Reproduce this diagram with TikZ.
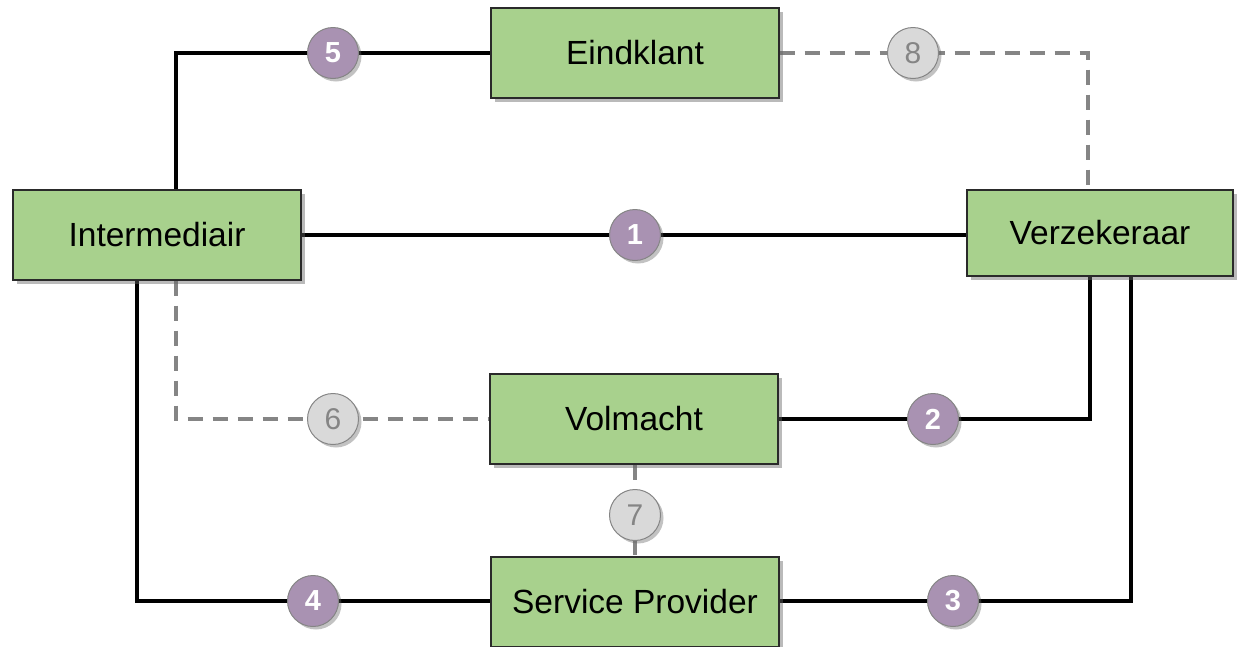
\documentclass[tikz,border=0pt]{standalone}
\usepackage{fontspec}
\setmainfont{Liberation Sans}
\usetikzlibrary{shadows,backgrounds}
\definecolor{boxgreen}{HTML}{A8D18D}
\definecolor{boxedge}{HTML}{2A2A2A}
\definecolor{badgepurple}{HTML}{A992B2}
\definecolor{badgegrey}{HTML}{D9D9D9}
\definecolor{linegrey}{HTML}{858585}
\tikzset{
  party/.style={draw=boxedge, line width=1.4pt, fill=boxgreen, minimum width=288pt, minimum height=90pt,
    inner sep=0pt, font=\fontsize{33.5}{40}\selectfont,
    drop shadow={shadow xshift=4pt, shadow yshift=-4pt, opacity=0.45, fill=black!60}},
  solidlink/.style={line width=3.3pt, black},
  dashlink/.style={line width=3.6pt, linegrey, dash pattern=on 15pt off 10pt},
  badge/.style={circle, minimum size=51pt, inner sep=0pt, draw=linegrey, line width=1pt,
    drop shadow={shadow xshift=3pt, shadow yshift=-3pt, opacity=0.4, fill=black!60}},
  mainbadge/.style={badge, fill=badgepurple, text=white, font=\fontsize{29}{34}\selectfont\bfseries},
  sidebadge/.style={badge, fill=badgegrey, text=linegrey, font=\fontsize{30}{34}\selectfont},
}
\begin{document}
\begin{tikzpicture}[x=1pt, y=-1pt]
\useasboundingbox (0,0) rectangle (1239,646);
\clip (0,0) rectangle (1239,646);

% parties
\node[party] (eind) at (635,53) {Eindklant};
\node[party] (inter) at (157,235) {Intermediair};
\node[party, minimum width=266pt, minimum height=86pt] (verz) at (1100,233) {Verzekeraar};
\node[party] (vol) at (634,419) {Volmacht};
\node[party] (sp) at (635,602) {Service Provider};

% corner points of the routed links
\coordinate (c5) at (176,53);
\coordinate (c8) at (1088,53);
\coordinate (c6) at (176,419);
\coordinate (c2) at (1090,419);
\coordinate (c4) at (137,601);
\coordinate (c3) at (1131,601);
\coordinate (mid1) at (635,235);
\coordinate (mid7) at (635,515);

% numbered badges
\node[mainbadge] (b1) at (mid1) {1};
\node[mainbadge] (b2) at (933,419) {2};
\node[mainbadge] (b3) at (953,601) {3};
\node[mainbadge] (b4) at (313,601) {4};
\node[mainbadge] (b5) at (333,53) {5};
\node[sidebadge] (b6) at (333,419) {6};
\node[sidebadge] (b7) at (mid7) {7};
\node[sidebadge] (b8) at (913,53) {8};

% links, kept behind boxes and badges
\begin{scope}[on background layer]
\draw[solidlink] (inter.north -| c5) -- (c5) -- (eind.west |- c5);
\draw[solidlink] (inter.east |- mid1) -- (verz.west |- mid1);
\draw[solidlink] (vol.east |- c2) -- (c2) -- (verz.south -| c2);
\draw[solidlink] (inter.south -| c4) -- (c4) -- (sp.west |- c4);
\draw[solidlink] (sp.east |- c3) -- (c3) -- (verz.south -| c3);
\draw[dashlink] (eind.east |- c8) -- (c8) -- (verz.north -| c8);
\draw[dashlink] (inter.south -| c6) -- (c6) -- (vol.west |- c6);
\draw[dashlink] (vol.south -| mid7) -- (sp.north -| mid7);
\end{scope}
\end{tikzpicture}
\end{document}
